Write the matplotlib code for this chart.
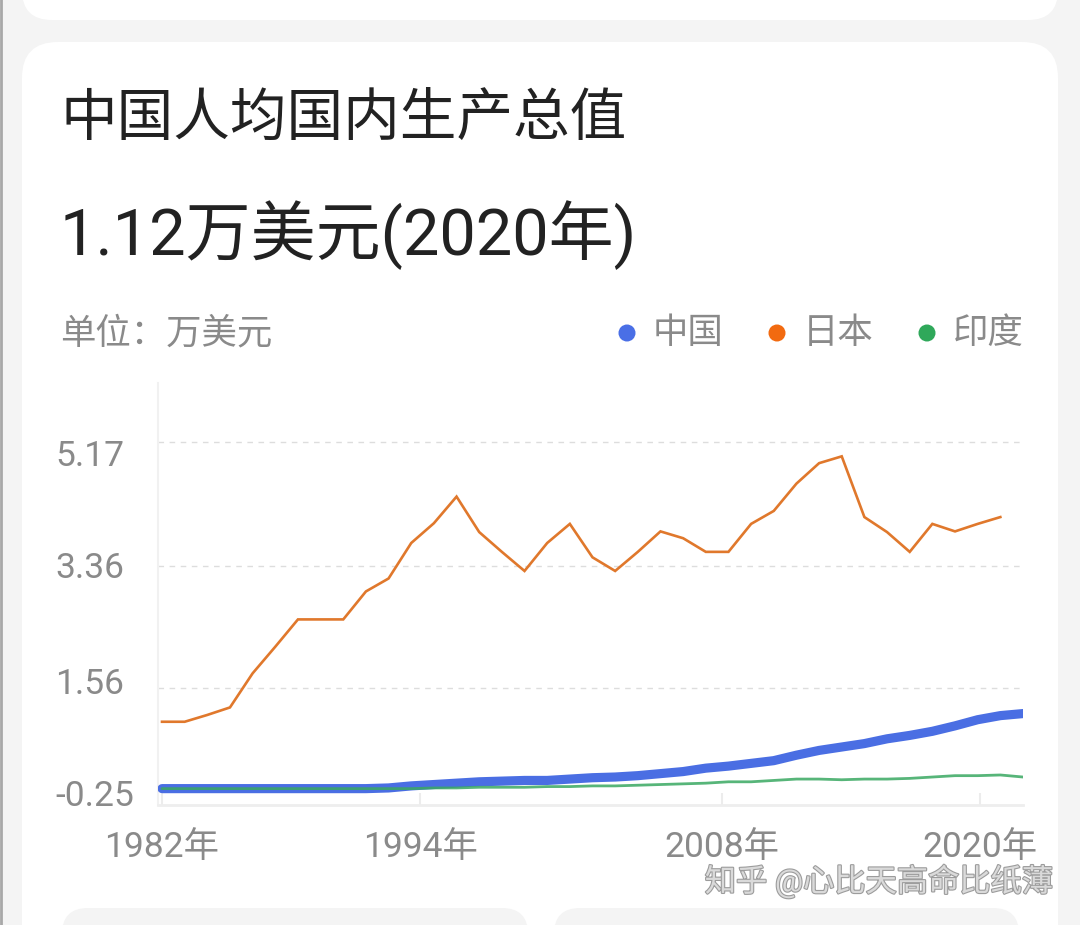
import matplotlib
matplotlib.use('Agg')
import matplotlib.pyplot as plt
from matplotlib.patches import FancyBboxPatch, Circle
import matplotlib.patheffects as pe

# ---------------- data (万美元) ----------------
years = list(range(1982, 2021))
china = [0.09, 0.09, 0.09, 0.09, 0.09, 0.09, 0.09, 0.09, 0.09, 0.09,
         0.10, 0.13, 0.15, 0.17, 0.19, 0.20, 0.21, 0.21, 0.23, 0.25,
         0.26, 0.28, 0.31, 0.34, 0.39, 0.42, 0.46, 0.50, 0.58, 0.65,
         0.70, 0.75, 0.82, 0.87, 0.93, 1.01, 1.10, 1.16, 1.19]
japan_years = list(range(1982, 2020))
japan = [1.07, 1.07, 1.17, 1.28, 1.78, 2.17, 2.57, 2.57, 2.57, 2.98,
         3.17, 3.69, 3.98, 4.37, 3.85, 3.56, 3.28, 3.69, 3.97, 3.48,
         3.28, 3.56, 3.86, 3.76, 3.56, 3.56, 3.97, 4.16, 4.56, 4.86,
         4.96, 4.07, 3.85, 3.56, 3.97, 3.86, 3.97, 4.07]
india = [0.09, 0.09, 0.09, 0.09, 0.09, 0.09, 0.09, 0.09, 0.09, 0.09,
         0.09, 0.09, 0.10, 0.10, 0.11, 0.11, 0.11, 0.12, 0.12, 0.13,
         0.13, 0.14, 0.15, 0.16, 0.17, 0.19, 0.19, 0.21, 0.23, 0.23,
         0.22, 0.23, 0.23, 0.24, 0.26, 0.28, 0.28, 0.29, 0.26]
series_names = ['中国', '日本', '印度']
x_labels = ['1982年', '1994年', '2008年', '2020年']
y_labels = ['5.17', '3.36', '1.56', '-0.25']
grid_values = [5.17, 3.36, 1.56]
title = '中国人均国内生产总值'
headline = '1.12万美元(2020年)'
unit = '单位：万美元'
watermark = '知乎 @心比天高命比纸薄'

# ---------------- style ----------------
C_CHINA = '#4A6EE3'
C_JAPAN = '#E0782C'
C_INDIA = '#3AA862'
LEG_COLORS = ['#4A6FE6', '#F26A10', '#2FA85A']
GRAY = '#8a8a8a'
CJK = ['Noto Sans CJK SC', 'DejaVu Sans']
MIX = ['Roboto', 'Noto Sans CJK SC', 'DejaVu Sans']

W, H, DPI = 1080, 925, 100
fig = plt.figure(figsize=(W / DPI, H / DPI), dpi=DPI, facecolor='#f4f4f4')

bg = fig.add_axes([0, 0, 1, 1], zorder=0)
bg.set_xlim(0, W)
bg.set_ylim(H, 0)
bg.axis('off')

def card(x, y, w, h, r, color):
    bg.add_patch(FancyBboxPatch((x, y), w, h,
                                boxstyle=f'round,pad=0,rounding_size={r}',
                                fc=color, ec='none'))

card(22, -80, 1036, 100, 30, 'white')       # previous card
card(22, 42, 1036, 1000, 36, 'white')       # main card
card(62, 908, 466, 100, 26, '#f4f4f4')      # next cards
card(554, 908, 465, 100, 26, '#f4f4f4')
bg.plot([1, 1], [0, H], color='#a8a8a8', lw=2)

bg.text(60, 119, title, fontsize=40.8, color='#222222', family=CJK,
        ha='left', va='center')
bg.text(60, 235, headline, fontsize=46.8, color='#222222', family=MIX,
        ha='left', va='center')
bg.text(60, 333, unit, fontsize=25.5, color=GRAY, family=CJK,
        ha='left', va='center')

for cx, name, col in zip([627, 777, 927], series_names, LEG_COLORS):
    bg.add_patch(Circle((cx, 333), 8.5, fc=col, ec='none'))
    bg.text(cx + 26, 333, name, fontsize=25.5, color=GRAY, family=CJK,
            ha='left', va='center')

# y labels (evenly spaced, left aligned as in the app)
for yy, lab in zip([456, 569, 684, 796], y_labels):
    bg.text(55, yy, lab, fontsize=25.5, color=GRAY, family=MIX,
            ha='left', va='center')

t = bg.text(1053, 881, watermark, fontsize=22.5, color='#dadada', family=MIX,
            ha='right', va='center')
t.set_path_effects([pe.withStroke(linewidth=1.6, foreground='#9c9c9c')])

# ---------------- plot axes ----------------
L, R, T, B = 158, 1023, 383, 805
ax = fig.add_axes([L / W, 1 - B / H, (R - L) / W, (B - T) / H], zorder=1)
ax.patch.set_alpha(0)
k = (1023 - 162) / (2020 - 1982)          # px per year
ax.set_xlim(1982 - (162 - L) / k, 2020)
ax.set_ylim(-0.150, 6.035)

ax.plot(japan_years, japan, color=C_JAPAN, lw=1.9, zorder=3,
        solid_joinstyle='miter')
ax.plot(years, china, color=C_CHINA, lw=6.6, zorder=3,
        solid_capstyle='round', solid_joinstyle='round')
ax.plot(years, india, color=C_INDIA, lw=2.0, zorder=4, alpha=0.85,
        solid_capstyle='round')

for gv in grid_values:
    ax.axhline(gv, color='#dddddd', lw=1.0, ls=(0, (4, 4)), zorder=1)

ax.set_yticks([])
for s in ['top', 'right']:
    ax.spines[s].set_visible(False)
ax.spines['left'].set_color('#f1f1f1')
ax.spines['left'].set_linewidth(1.5)
ax.spines['bottom'].set_color('#eeeeee')
ax.spines['bottom'].set_linewidth(2)

tick_px = [162, 420, 722, 980]
tick_pos = [1982 + (p - 162) / k for p in tick_px]
ax.set_xticks(tick_pos)
ax.set_xticklabels(x_labels, fontsize=25.5, color=GRAY, family=MIX)
ax.tick_params(axis='x', direction='in', length=9, width=1.5,
               color='#ececec', pad=19)

fig.savefig('out.png', dpi=DPI, facecolor=fig.get_facecolor())
